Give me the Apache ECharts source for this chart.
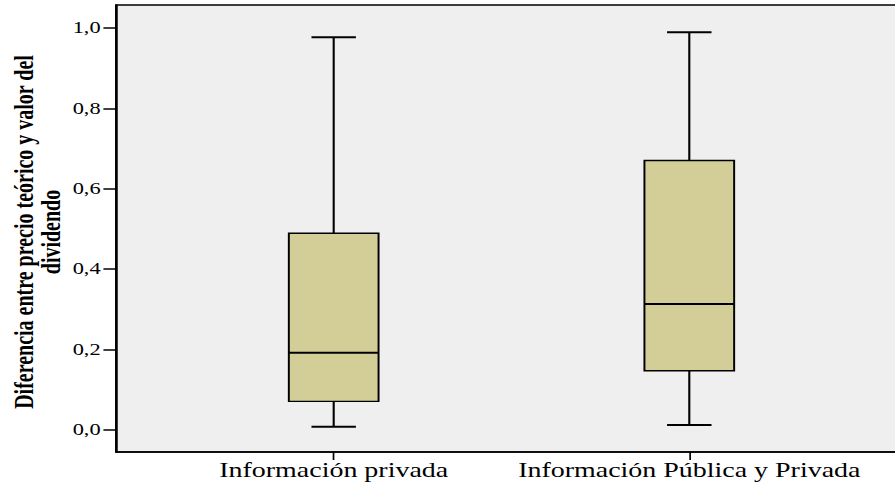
<!DOCTYPE html>
<html>
<head>
<meta charset="utf-8">
<script src="https://cdn.jsdelivr.net/npm/echarts@6/dist/echarts.min.js"></script>
<style>
  html, body { margin: 0; padding: 0; background: #ffffff; overflow: hidden; }
  #wrap { width: 895px; height: 489px; overflow: hidden; position: relative; }
  #chart { width: 650px; height: 489px; transform: scaleX(1.3984375); transform-origin: 0 0; }
</style>
</head>
<body>
<div id="wrap"><div id="chart"></div></div>
<script>
// ---- data ----
const categories = ['Información privada', 'Información Pública y Privada'];
const catPositions = [1, 2];
const whiskerLow  = [0.008, 0.012];
const q1Values    = [0.071, 0.147];
const medians     = [0.192, 0.313];
const q3Values    = [0.489, 0.670];
const whiskerHigh = [0.977, 0.989];
const yTickValues = [0, 0.2, 0.4, 0.6, 0.8, 1.0];
const yTitle = 'Diferencia entre precio teórico y valor del\ndividendo';

const K = 895 / 640; // horizontal stretch of the original picture
const W_INTERNAL = 650;
const boxData = catPositions.map((x, i) =>
  [x, whiskerLow[i], q1Values[i], medians[i], q3Values[i], whiskerHigh[i]]);

const chart = echarts.init(document.getElementById('chart'), null, { renderer: 'svg' });

const BOX_W = 0.2523;  // in x-axis units
const CAP_W = 0.125;

function renderItem(params, api) {
  const x = api.value(0);
  const lo = api.coord([x, api.value(1)]);
  const q1 = api.coord([x, api.value(2)]);
  const md = api.coord([x, api.value(3)]);
  const q3 = api.coord([x, api.value(4)]);
  const hi = api.coord([x, api.value(5)]);
  const bw = api.size([BOX_W, 0])[0];
  const cw = api.size([CAP_W, 0])[0];
  const cx = q1[0];
  const vStroke = { stroke: '#000', lineWidth: 1.5 };
  const hStroke = { stroke: '#000', lineWidth: 2 };
  return {
    type: 'group',
    children: [
      { type: 'line', shape: { x1: cx, y1: hi[1], x2: cx, y2: q3[1] }, style: vStroke },
      { type: 'line', shape: { x1: cx, y1: q1[1], x2: cx, y2: lo[1] }, style: vStroke },
      { type: 'line', shape: { x1: cx - cw / 2, y1: hi[1], x2: cx + cw / 2, y2: hi[1] }, style: hStroke },
      { type: 'line', shape: { x1: cx - cw / 2, y1: lo[1], x2: cx + cw / 2, y2: lo[1] }, style: hStroke },
      { type: 'rect', shape: { x: cx - bw / 2, y: q3[1], width: bw, height: q1[1] - q3[1] },
        style: { fill: 'rgb(211,206,152)', stroke: '#000', lineWidth: 1.4 } },
      { type: 'line', shape: { x1: cx - bw / 2, y1: md[1], x2: cx + bw / 2, y2: md[1] }, style: hStroke }
    ]
  };
}

const option = {
  backgroundColor: '#ffffff',
  animation: false,
  grid: {
    left: 116 / K, right: W_INTERNAL - 905 / K, top: 5, bottom: 37,
    show: true, backgroundColor: '#efefef', borderColor: '#000', borderWidth: 1.4
  },
  xAxis: {
    type: 'value',
    min: 0.3878, max: 2.6066,
    splitLine: { show: false },
    axisLine: { show: true, onZero: false, lineStyle: { color: '#000', width: 1.5 } },
    axisTick: { show: true, customValues: catPositions, length: 8, inside: false,
      lineStyle: { color: '#000', width: 1.2 } },
    axisLabel: {
      customValues: catPositions,
      formatter: v => categories[catPositions.indexOf(Math.round(v))] || '',
      color: '#000', fontFamily: 'Liberation Serif', fontSize: 20, margin: 8
    }
  },
  yAxis: {
    type: 'value',
    min: -0.055, max: 1.057,
    splitLine: { show: false },
    axisLine: { show: true, onZero: false, lineStyle: { color: '#000', width: 1.4 } },
    axisTick: { show: true, customValues: yTickValues, length: 9, inside: false,
      lineStyle: { color: '#000', width: 1.5 } },
    axisLabel: {
      customValues: yTickValues,
      formatter: v => v.toFixed(1).replace('.', ','),
      color: '#000', fontFamily: 'Liberation Serif', fontSize: 16, margin: 11
    }
  },
  graphic: [{
    type: 'text',
    x: 36.5 / K, y: 232,
    rotation: Math.PI / 2,
    style: {
      text: yTitle,
      font: 'bold 20px "Liberation Serif"',
      fill: '#000',
      textAlign: 'center', textVerticalAlign: 'middle',
      align: 'center', verticalAlign: 'middle',
      lineHeight: 19
    }
  }],
  series: [{
    type: 'custom',
    renderItem: renderItem,
    encode: { x: 0, y: [1, 2, 3, 4, 5] },
    data: boxData,
    clip: false
  }]
};
chart.setOption(option);
</script>
</body>
</html>
